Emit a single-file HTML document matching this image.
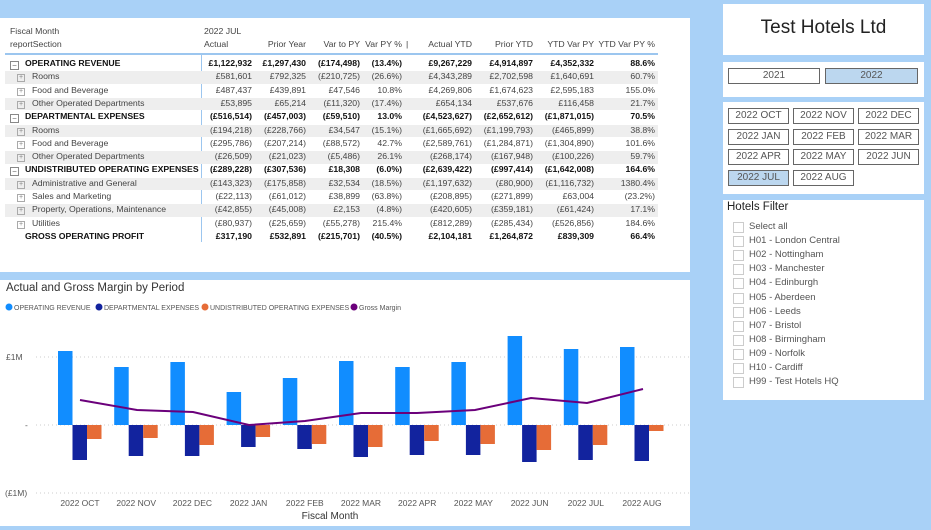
<!DOCTYPE html>
<html><head><meta charset="utf-8"><style>
body{margin:0;width:931px;height:530px;background:#a9d1f7;position:relative;overflow:hidden;font-family:"Liberation Sans",sans-serif;}
.p{position:absolute;background:#fff}
.t{position:absolute;font-size:8.7px;color:#444;white-space:nowrap}
.r{text-align:right}
.b{font-weight:bold;color:#111}
.btn{position:absolute;border:1.5px solid #666;background:#fff;font-size:10px;color:#555;text-align:center;box-sizing:border-box;line-height:13px}
.sel{background:#bcd7ef}
.hf{position:absolute;left:734px;font-size:9.5px;color:#555}
.cb{position:absolute;left:733px;width:9px;height:9px;border:1px solid #ccc}
</style></head><body>
<div class="p" style="left:0;top:18px;width:690px;height:254px"></div>
<div class="p" style="left:0;top:280px;width:690px;height:246px"></div>
<div class="p" style="left:723px;top:4px;width:201px;height:51px"></div>
<div class="p" style="left:723px;top:62px;width:201px;height:35px"></div>
<div class="p" style="left:723px;top:102px;width:201px;height:92px"></div>
<div class="p" style="left:723px;top:200px;width:201px;height:200px"></div>
<div id="tbl"></div>
<div style="position:absolute;left:723px;top:17px;width:201px;text-align:center;font-size:19px;color:#222">Test Hotels Ltd</div>
<div class="btn" style="left:728px;top:68px;width:92px;height:16px">2021</div>
<div class="btn sel" style="left:825px;top:68px;width:93px;height:16px">2022</div>
<div id="mb"></div>
<div style="position:absolute;left:727px;top:201px;font-size:11.5px;color:#222">Hotels Filter</div>
<div id="hf"></div>
<svg style="position:absolute;left:0;top:280px" width="690" height="246" font-family="Liberation Sans,sans-serif">
<text x="6" y="11" font-size="11.5" fill="#333">Actual and Gross Margin by Period</text>
<g font-size="7" fill="#555">
<circle cx="9" cy="27" r="3.5" fill="#118dff"/><text x="14" y="30">OPERATING REVENUE</text>
<circle cx="99" cy="27" r="3.5" fill="#12239e"/><text x="104" y="30">DEPARTMENTAL EXPENSES</text>
<circle cx="205" cy="27" r="3.5" fill="#e66c37"/><text x="210" y="30">UNDISTRIBUTED OPERATING EXPENSES</text>
<circle cx="354" cy="27" r="3.5" fill="#6b007b"/><text x="359" y="30">Gross Margin</text>
</g>
<g stroke="#ccc" stroke-dasharray="1,3"><line x1="36" x2="690" y1="77" y2="77"/><line x1="36" x2="690" y1="145" y2="145"/><line x1="36" x2="690" y1="213" y2="213"/></g>
<g font-size="8.5" fill="#555"><text x="6" y="80">£1M</text><text x="25" y="148">-</text><text x="5" y="216">(£1M)</text></g>
<g id="bars"></g>
<polyline fill="none" stroke="#6b007b" stroke-width="2" points="80,120 137,130 193,132 249,145 305,141 361,133 417,133 475,130 531,118 587,123 643,109"/>
<text x="330" y="239" font-size="10" fill="#333" text-anchor="middle">Fiscal Month</text>
</svg>
<script>
var T=document.getElementById('tbl'),h='';
function t(x,y,s,c,w){h+='<div class="t '+(c||'')+'" style="'+(w?'width:'+w+'px;left:'+(x-w)+'px':'left:'+x+'px')+';top:'+y+'px">'+s+'</div>';}
t(10,26,'Fiscal Month');t(10,39,'reportSection');t(204,26,'2022 JUL');
var R=[252,306,360,402,472,533,594,655];
['Actual','Prior Year','Var to PY','Var PY %','Actual YTD','Prior YTD','YTD Var PY','YTD Var PY %'].forEach(function(s,i){if(i==0)t(204,39,s);else t(R[i],39,s,'r',70)});
t(406,39,'|');
h+='<div style="position:absolute;left:5px;top:53px;width:653px;height:1.5px;background:#9cc6ef"></div><div style="position:absolute;left:201px;top:54px;width:1px;height:188px;background:#9cc6ef"></div>';
var rows=[
[1,'OPERATING REVENUE','£1,122,932|£1,297,430|(£174,498)|(13.4%)|£9,267,229|£4,914,897|£4,352,332|88.6%'],
[0,'Rooms','£581,601|£792,325|(£210,725)|(26.6%)|£4,343,289|£2,702,598|£1,640,691|60.7%'],
[0,'Food and Beverage','£487,437|£439,891|£47,546|10.8%|£4,269,806|£1,674,623|£2,595,183|155.0%'],
[0,'Other Operated Departments','£53,895|£65,214|(£11,320)|(17.4%)|£654,134|£537,676|£116,458|21.7%'],
[1,'DEPARTMENTAL EXPENSES','(£516,514)|(£457,003)|(£59,510)|13.0%|(£4,523,627)|(£2,652,612)|(£1,871,015)|70.5%'],
[0,'Rooms','(£194,218)|(£228,766)|£34,547|(15.1%)|(£1,665,692)|(£1,199,793)|(£465,899)|38.8%'],
[0,'Food and Beverage','(£295,786)|(£207,214)|(£88,572)|42.7%|(£2,589,761)|(£1,284,871)|(£1,304,890)|101.6%'],
[0,'Other Operated Departments','(£26,509)|(£21,023)|(£5,486)|26.1%|(£268,174)|(£167,948)|(£100,226)|59.7%'],
[1,'UNDISTRIBUTED OPERATING EXPENSES','(£289,228)|(£307,536)|£18,308|(6.0%)|(£2,639,422)|(£997,414)|(£1,642,008)|164.6%'],
[0,'Administrative and General','(£143,323)|(£175,858)|£32,534|(18.5%)|(£1,197,632)|(£80,900)|(£1,116,732)|1380.4%'],
[0,'Sales and Marketing','(£22,113)|(£61,012)|£38,899|(63.8%)|(£208,895)|(£271,899)|£63,004|(23.2%)'],
[0,'Property, Operations, Maintenance','(£42,855)|(£45,008)|£2,153|(4.8%)|(£420,605)|(£359,181)|(£61,424)|17.1%'],
[0,'Utilities','(£80,937)|(£25,659)|(£55,278)|215.4%|(£812,289)|(£285,434)|(£526,856)|184.6%'],
[2,'GROSS OPERATING PROFIT','£317,190|£532,891|(£215,701)|(40.5%)|£2,104,181|£1,264,872|£839,309|66.4%']];
var g=[1,3,5,7,9,11];
rows.forEach(function(r,i){var y=57+i*13.3;
 if(g.indexOf(i)>=0)h+='<div style="position:absolute;left:5px;top:'+(y+1)+'px;width:653px;height:12.5px;background:#eee"></div>';
 var b=r[0]?'b':'';
 if(r[0]==1)h+='<div style="position:absolute;left:10px;top:'+(y+3.5)+'px;width:7px;height:7px;border:1px solid #888;font-size:8px;line-height:7px;text-align:center;color:#666">−</div>';
 if(r[0]==0)h+='<div style="position:absolute;left:17px;top:'+(y+4)+'px;width:6px;height:6px;border:1px solid #aaa;font-size:7px;line-height:6px;text-align:center;color:#888">+</div>';
 t(r[0]?25:32,y+1,r[1],b);
 r[2].split('|').forEach(function(v,j){t(R[j],y+1,v,'r '+b,80)});
});
T.innerHTML=h;
var m=['2022 OCT','2022 NOV','2022 DEC','2022 JAN','2022 FEB','2022 MAR','2022 APR','2022 MAY','2022 JUN','2022 JUL','2022 AUG'],mb='';
m.forEach(function(s,i){var c=i%3,r=Math.floor(i/3);mb+='<div class="btn'+(i==9?' sel':'')+'" style="left:'+(728+c*65)+'px;top:'+(108+r*20.5)+'px;width:61px;height:16px">'+s+'</div>'});
document.getElementById('mb').innerHTML=mb;
var hs=['Select all','H01 - London Central','H02 - Nottingham','H03 - Manchester','H04 - Edinburgh','H05 - Aberdeen','H06 - Leeds','H07 - Bristol','H08 - Birmingham','H09 - Norfolk','H10 - Cardiff','H99 - Test Hotels HQ'],hh='';
hs.forEach(function(s,i){var y=221+i*14.1;hh+='<div class="cb" style="top:'+(y+1)+'px"></div><div class="hf" style="left:749px;top:'+y+'px">'+s+'</div>'});
document.getElementById('hf').innerHTML=hh;
var rev=[351,367,362,392,378,361,367,362,336,349,347],dep=[460,456,456,447,449,457,455,455,462,460,461],und=[439,438,445,437,444,447,441,444,450,445,431],bs='',z=145;
for(var i=0;i<11;i++){var x=58+i*56.2;
bs+='<rect x="'+x+'" y="'+(rev[i]-280)+'" width="14.5" height="'+(425-rev[i])+'" fill="#118dff"/>';
bs+='<rect x="'+(x+14.5)+'" y="'+z+'" width="14.5" height="'+(dep[i]-425)+'" fill="#12239e"/>';
bs+='<rect x="'+(x+29)+'" y="'+z+'" width="14.5" height="'+(und[i]-425)+'" fill="#e66c37"/>';
bs+='<text x="'+(x+22)+'" y="226" font-size="8.5" fill="#555" text-anchor="middle">'+m[i]+'</text>';}
document.getElementById('bars').innerHTML=bs;
</script>
</body></html>
